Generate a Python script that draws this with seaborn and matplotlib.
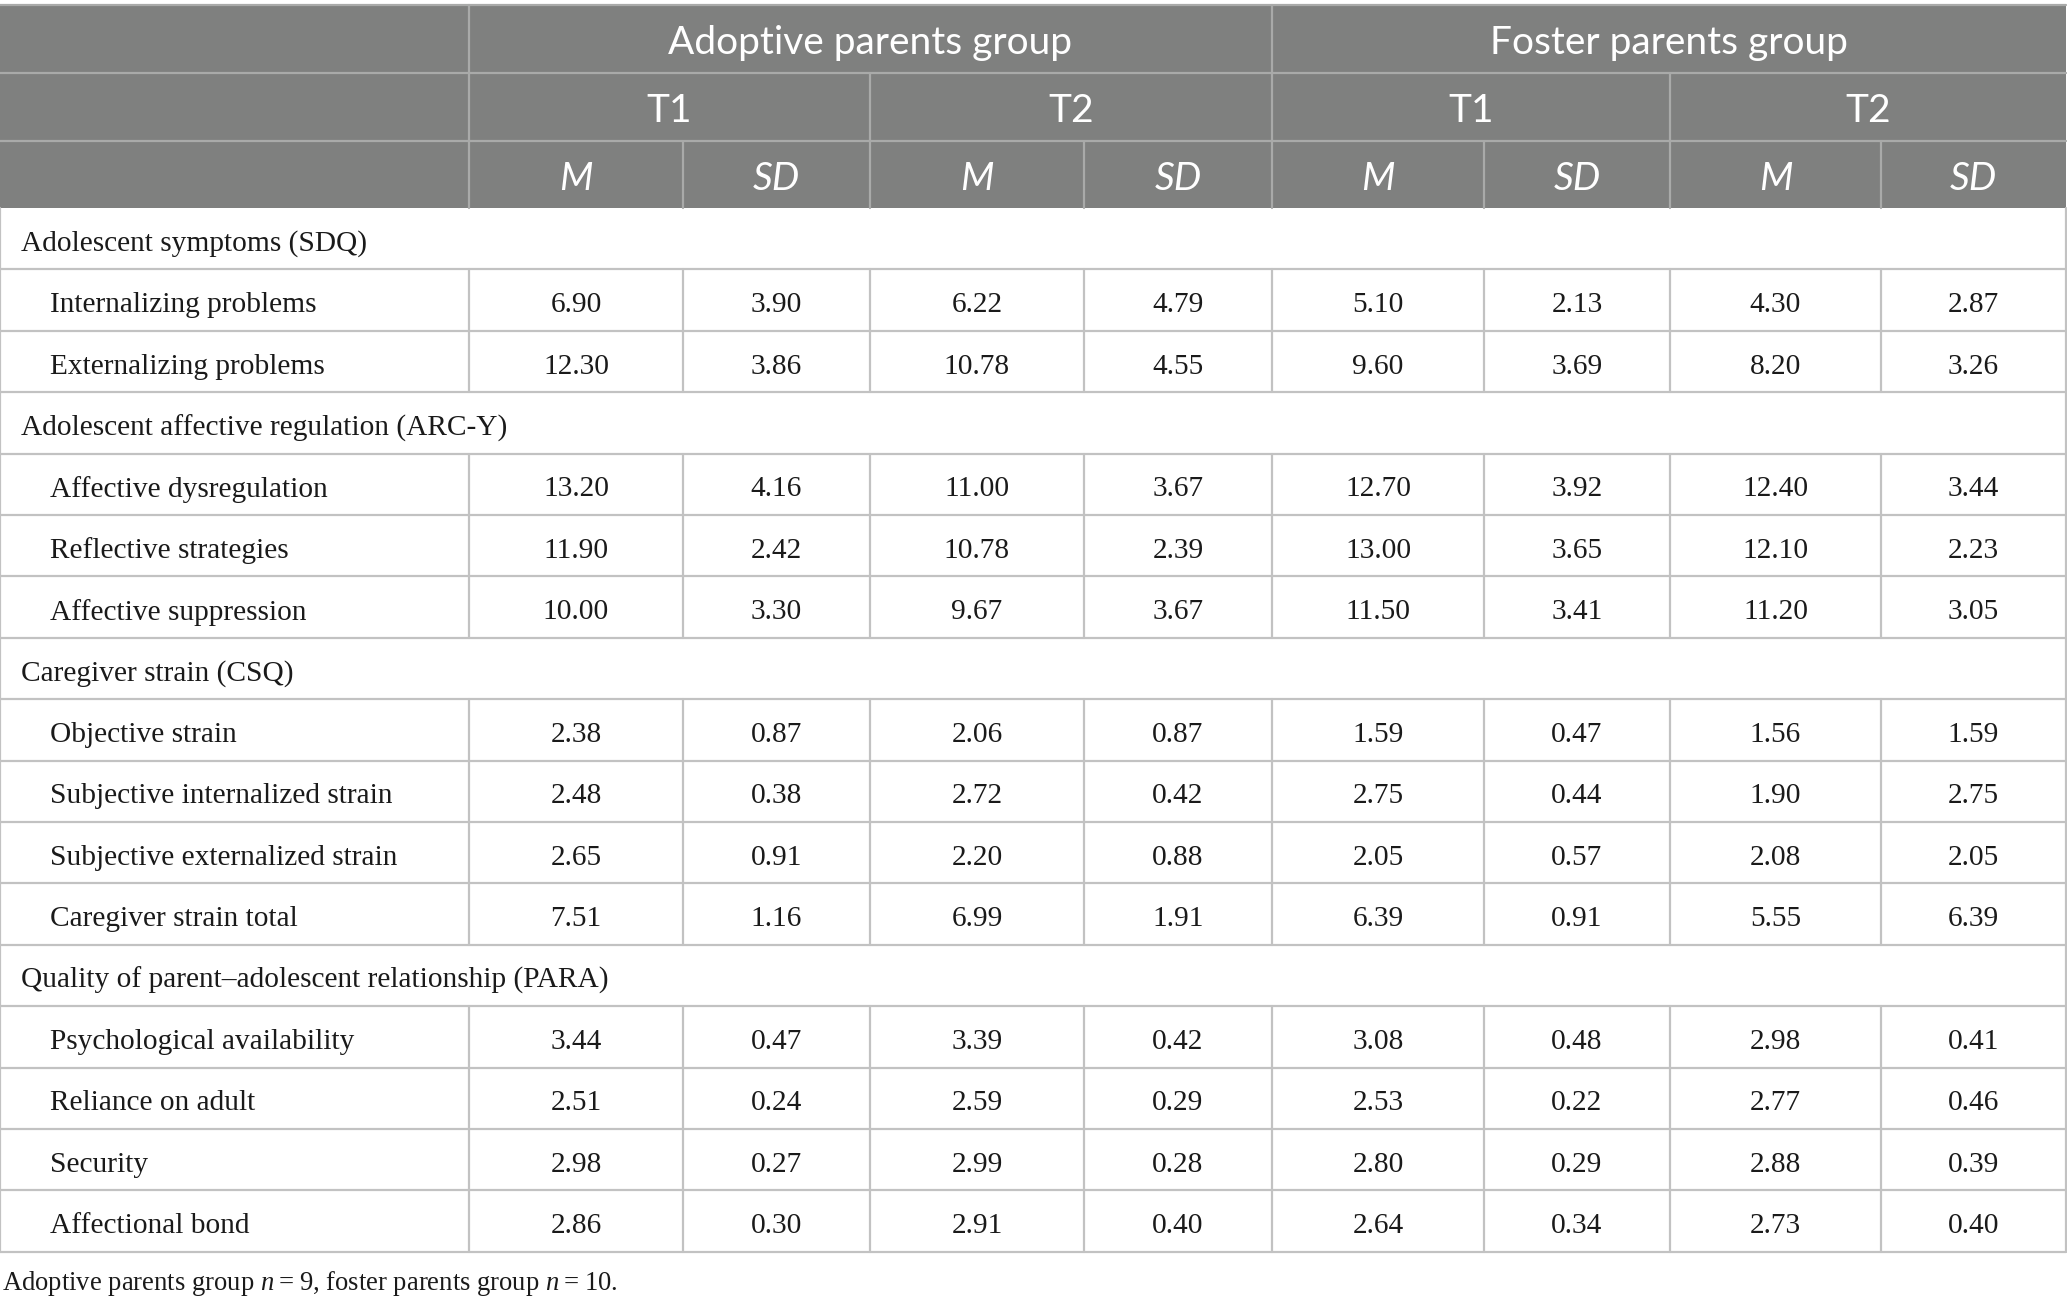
import matplotlib
matplotlib.use("Agg")
import matplotlib.pyplot as plt
import seaborn as sns
import pandas as pd

# ---------------- data ----------------
group_labels = ["Adoptive parents group", "Foster parents group"]
time_labels = ["T1", "T2", "T1", "T2"]
stat_labels = ["M", "SD", "M", "SD", "M", "SD", "M", "SD"]

section_names = [
    "Adolescent symptoms (SDQ)",
    "Adolescent affective regulation (ARC-Y)",
    "Caregiver strain (CSQ)",
    "Quality of parent\u2013adolescent relationship (PARA)",
]
section_sizes = [2, 3, 4, 4]

row_labels = [
    "Internalizing problems",
    "Externalizing problems",
    "Affective dysregulation",
    "Reflective strategies",
    "Affective suppression",
    "Objective strain",
    "Subjective internalized strain",
    "Subjective externalized strain",
    "Caregiver strain total",
    "Psychological availability",
    "Reliance on adult",
    "Security",
    "Affectional bond",
]

adopt_t1_m = [6.90, 12.30, 13.20, 11.90, 10.00, 2.38, 2.48, 2.65, 7.51, 3.44, 2.51, 2.98, 2.86]
adopt_t1_sd = [3.90, 3.86, 4.16, 2.42, 3.30, 0.87, 0.38, 0.91, 1.16, 0.47, 0.24, 0.27, 0.30]
adopt_t2_m = [6.22, 10.78, 11.00, 10.78, 9.67, 2.06, 2.72, 2.20, 6.99, 3.39, 2.59, 2.99, 2.91]
adopt_t2_sd = [4.79, 4.55, 3.67, 2.39, 3.67, 0.87, 0.42, 0.88, 1.91, 0.42, 0.29, 0.28, 0.40]
foster_t1_m = [5.10, 9.60, 12.70, 13.00, 11.50, 1.59, 2.75, 2.05, 6.39, 3.08, 2.53, 2.80, 2.64]
foster_t1_sd = [2.13, 3.69, 3.92, 3.65, 3.41, 0.47, 0.44, 0.57, 0.91, 0.48, 0.22, 0.29, 0.34]
foster_t2_m = [4.30, 8.20, 12.40, 12.10, 11.20, 1.56, 1.90, 2.08, 5.55, 2.98, 2.77, 2.88, 2.73]
foster_t2_sd = [2.87, 3.26, 3.44, 2.23, 3.05, 1.59, 2.75, 2.05, 6.39, 0.41, 0.46, 0.39, 0.40]

footnote = "Adoptive parents group $n$\u2009=\u20099, foster parents group $n$\u2009=\u200910."

# --------------- table frame ---------------
df = pd.DataFrame({
    "am1": adopt_t1_m, "as1": adopt_t1_sd, "am2": adopt_t2_m, "as2": adopt_t2_sd,
    "fm1": foster_t1_m, "fs1": foster_t1_sd, "fm2": foster_t2_m, "fs2": foster_t2_sd,
}, index=row_labels)

sns.set_theme(style="white")
plt.rcParams["mathtext.fontset"] = "custom"
plt.rcParams["mathtext.rm"] = "Liberation Serif"
plt.rcParams["mathtext.it"] = "Liberation Serif:italic"

W, H = 2067, 1305
fig = plt.figure(figsize=(W / 100, H / 100), dpi=100)
ax = fig.add_axes([0, 0, 1, 1])
ax.set_xlim(0, W)
ax.set_ylim(H, 0)
ax.axis("off")

col_x = [0, 469, 683, 870, 1084, 1272, 1484, 1670, 1881, 2066]
hdr_y = [5, 73, 141, 208]
row_h = 61.4

HDR_BG = "#7f807f"
HDR_LINE = "#a9aaa9"
BODY_LINE = "#c2c2c2"
TXT = "#1a1a1a"
SANS = ["Lato", "DejaVu Sans"]
SERIF = ["Liberation Serif", "DejaVu Serif"]
LW = 1.6
HFS = 28
BFS = 21.2
HOFF = 4
BOFF = 5

# header background
ax.add_patch(plt.Rectangle((col_x[0], hdr_y[0]), col_x[-1] - col_x[0], hdr_y[-1] - hdr_y[0],
                           facecolor=HDR_BG, edgecolor="none", zorder=1))
# header horizontal lines
for yy in hdr_y[1:3]:
    ax.plot([col_x[0], col_x[-1]], [yy, yy], color=HDR_LINE, lw=LW, zorder=2)
# header vertical lines
ax.plot([col_x[1], col_x[1]], [hdr_y[0], hdr_y[3]], color=HDR_LINE, lw=LW, zorder=2)
ax.plot([col_x[5], col_x[5]], [hdr_y[0], hdr_y[3]], color=HDR_LINE, lw=LW, zorder=2)
for i in (3, 7):
    ax.plot([col_x[i], col_x[i]], [hdr_y[1], hdr_y[3]], color=HDR_LINE, lw=LW, zorder=2)
for i in (2, 4, 6, 8):
    ax.plot([col_x[i], col_x[i]], [hdr_y[2], hdr_y[3]], color=HDR_LINE, lw=LW, zorder=2)
ax.plot([col_x[0], col_x[-1]], [hdr_y[0], hdr_y[0]], color=HDR_LINE, lw=LW, zorder=2)

# header texts
for g, lab in enumerate(group_labels):
    xc = (col_x[1 + 4 * g] + col_x[5 + 4 * g]) / 2
    ax.text(xc, (hdr_y[0] + hdr_y[1]) / 2 + HOFF, lab, color="white", fontsize=HFS,
            family=SANS, ha="center", va="center", zorder=3)
for t, lab in enumerate(time_labels):
    xc = (col_x[1 + 2 * t] + col_x[3 + 2 * t]) / 2
    ax.text(xc, (hdr_y[1] + hdr_y[2]) / 2 + HOFF, lab, color="white", fontsize=HFS,
            family=SANS, ha="center", va="center", zorder=3)
for s, lab in enumerate(stat_labels):
    xc = (col_x[1 + s] + col_x[2 + s]) / 2
    ax.text(xc, (hdr_y[2] + hdr_y[3]) / 2 + HOFF, lab, color="white", fontsize=HFS,
            family=SANS, style="italic", ha="center", va="center", zorder=3)

# body
y = hdr_y[3]
r = 0
cols = list(df.columns)
for sec, n in zip(section_names, section_sizes):
    y0 = y
    ax.text(21, y0 + row_h / 2 + BOFF, sec, color=TXT, fontsize=BFS, family=SERIF,
            ha="left", va="center")
    y += row_h
    ax.plot([col_x[0], col_x[-1]], [y, y], color=BODY_LINE, lw=LW)
    ax.plot([col_x[0], col_x[0]], [y0, y], color=BODY_LINE, lw=LW)
    ax.plot([col_x[-1], col_x[-1]], [y0, y], color=BODY_LINE, lw=LW)
    for k in range(n):
        label = df.index[r]
        yc = y + row_h / 2 + BOFF
        ax.text(50, yc, label, color=TXT, fontsize=BFS, family=SERIF,
                ha="left", va="center")
        for c, cname in enumerate(cols):
            xc = (col_x[1 + c] + col_x[2 + c]) / 2
            ax.text(xc, yc, f"{df.iloc[r][cname]:.2f}", color=TXT, fontsize=BFS,
                    family=SERIF, ha="center", va="center")
        for xv in col_x:
            ax.plot([xv, xv], [y, y + row_h], color=BODY_LINE, lw=LW)
        y += row_h
        ax.plot([col_x[0], col_x[-1]], [y, y], color=BODY_LINE, lw=LW)
        r += 1

ax.text(2, 1283, footnote, color=TXT, fontsize=19.2, family=SERIF,
        ha="left", va="center")

fig.savefig("out.png", dpi=100, facecolor="white")
